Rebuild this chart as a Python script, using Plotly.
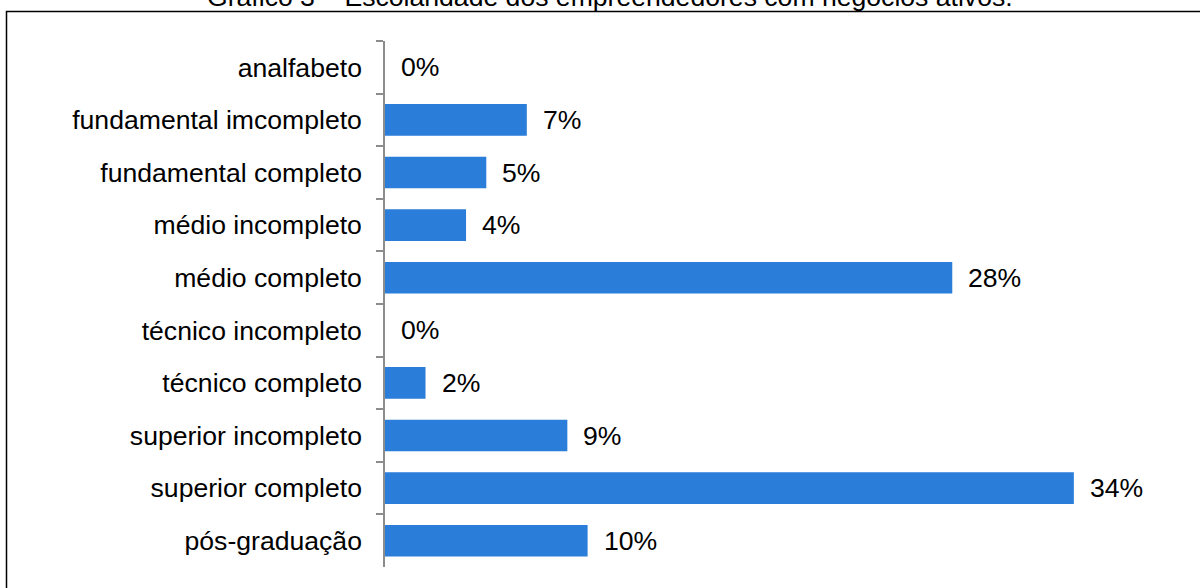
import plotly.graph_objects as go

# Escolaridade dos empreendedores (percentual)
categorias = [
    "analfabeto",
    "fundamental imcompleto",
    "fundamental completo",
    "médio incompleto",
    "médio completo",
    "técnico incompleto",
    "técnico completo",
    "superior incompleto",
    "superior completo",
    "pós-graduação",
]
percentuais = [0, 7, 5, 4, 28, 0, 2, 9, 34, 10]
rotulos = [f"{v}%" for v in percentuais]

titulo = "Gráfico 3 – Escolaridade dos empreendedores com negócios ativos."

W, H = 1200, 588
ML, MR, MT, MB = 385, 6, 41, 21
PW, PH = W - ML - MR, H - MT - MB
FONTE = "Arial, Liberation Sans, sans-serif"
TAM = 26.6


def px_x(p):
    return (p - ML) / PW


def px_y(p):
    return (H - MB - p) / PH


fig = go.Figure(
    go.Bar(
        x=percentuais,
        y=categorias,
        orientation="h",
        marker=dict(color="#2A7DD8", line=dict(width=0)),
        width=0.6,
        hoverinfo="x+y",
    )
)

# rótulos de valor à direita de cada barra
for c, v, t in zip(categorias, percentuais, rotulos):
    fig.add_annotation(
        x=v, y=c, xref="x", yref="y", text=t, showarrow=False,
        xanchor="left", yanchor="middle", xshift=14,
        font=dict(family=FONTE, size=TAM, color="#000000"),
    )

# título
fig.add_annotation(
    x=px_x(609.5), y=px_y(14), xref="paper", yref="paper",
    text=titulo, showarrow=False, xanchor="center", yanchor="bottom",
    font=dict(family=FONTE, size=TAM, color="#000000"),
)

# moldura do gráfico
fig.add_shape(
    type="rect", xref="paper", yref="paper",
    x0=px_x(6.5), x1=px_x(1215), y0=px_y(11.5), y1=px_y(610),
    line=dict(color="#000000", width=1.5), fillcolor="rgba(0,0,0,0)",
    layer="below",
)

fig.update_layout(
    width=W, height=H,
    margin=dict(l=ML, r=MR, t=MT, b=MB, pad=0),
    paper_bgcolor="white", plot_bgcolor="white",
    showlegend=False,
    font=dict(family=FONTE, size=TAM, color="#000000"),
    bargap=0.4,
)
fig.update_xaxes(
    range=[0, PW / 20.26], visible=False, showgrid=False, zeroline=False,
    fixedrange=True,
)
fig.update_yaxes(
    type="category", categoryorder="array", categoryarray=categorias,
    autorange=False, range=[len(categorias) - 0.5, -0.5],
    showline=True, linecolor="#8C8C8C", linewidth=1.5,
    ticks="outside", tickson="boundaries", ticklen=7, tickcolor="#8C8C8C",
    tickwidth=1.5, ticklabelstandoff=16,
    showgrid=False, zeroline=False,
    tickfont=dict(family=FONTE, size=TAM, color="#000000"),
)

fig.write_html("out.html")
